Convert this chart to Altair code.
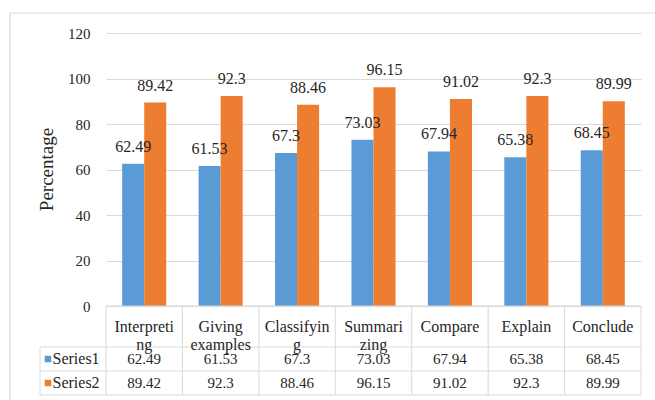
import altair as alt
import pandas as pd

# ---------------- data ----------------
categories = ["Interpreting", "Giving examples", "Classifying", "Summarizing",
              "Compare", "Explain", "Conclude"]
table_labels = ["Interpreti\nng", "Giving\nexamples", "Classifyin\ng", "Summari\nzing",
                "Compare", "Explain", "Conclude"]
series_names = ["Series1", "Series2"]
series1 = [62.49, 61.53, 67.3, 73.03, 67.94, 65.38, 68.45]
series2 = [89.42, 92.3, 88.46, 96.15, 91.02, 92.3, 89.99]
y_ticks = [0, 20, 40, 60, 80, 100, 120]
colors = ["#5B9BD5", "#ED7D31"]

# ---------------- layout constants ----------------
FONT = "Liberation Serif"
TXT = "#262626"
LINE = "#D9D9D9"
W, H = 535, 362
ZERO_PX = 273
UPP = 120 / ZERO_PX
YMIN = -(H - ZERO_PX) * UPP
COLW = W / len(categories)
ROW_PX = [0, 41, 65, 89]
row_y = [-p * UPP for p in ROW_PX]
LEG_LEFT = -66 / COLW

series_vals = [series1, series2]

bars_df = pd.DataFrame([
    {"category": c, "series": s, "value": v, "label": str(v)}
    for s, vals in zip(series_names, series_vals)
    for c, v in zip(categories, vals)
])

y_scale = alt.Scale(domain=[YMIN, 120], nice=False, zero=False)
x_band = alt.X("category:N", sort=categories, axis=None,
               scale=alt.Scale(paddingInner=0.423, paddingOuter=0.2115))
color_enc = alt.Color("series:N", sort=series_names,
                      scale=alt.Scale(domain=series_names, range=colors), legend=None)

y_axis = alt.Axis(values=y_ticks, grid=True, gridColor=LINE, domain=False,
                  ticks=False, labelPadding=16, labelFontSize=15,
                  labelFont=FONT, labelColor=TXT, title="Percentage",
                  titleFont=FONT, titleFontSize=19, titleFontWeight="normal",
                  titleColor=TXT, titleX=-54, titleY=136, titleAngle=270,
                  titleBaseline="alphabetic", titleAlign="center")


def Yq(field):
    return alt.Y(field, type="quantitative", scale=y_scale, axis=y_axis, title="Percentage")


bars = alt.Chart(bars_df).mark_bar().encode(
    x=x_band,
    xOffset=alt.XOffset("series:N", sort=series_names,
                        scale=alt.Scale(paddingInner=0, paddingOuter=0)),
    y=Yq("value"),
    y2=alt.datum(0),
    color=color_enc,
)

bar_labels = alt.Chart(bars_df).mark_text(
    font=FONT, fontSize=16, color=TXT, baseline="alphabetic", dy=-12
).encode(
    x=x_band,
    xOffset=alt.XOffset("series:N", sort=series_names,
                        scale=alt.Scale(paddingInner=0, paddingOuter=0)),
    y=Yq("value"),
    text="label:N",
)

# ---------------- data table ----------------
x_col = alt.Scale(domain=[0, len(categories)], nice=False, zero=False)
n = len(categories)

hlines_df = pd.DataFrame(
    [{"x": 0, "x2": n, "y": row_y[0]}] +
    [{"x": LEG_LEFT, "x2": n, "y": yy} for yy in row_y[1:]]
)
vlines_df = pd.DataFrame(
    [{"x": LEG_LEFT, "y": row_y[1], "y2": row_y[3]}] +
    [{"x": i, "y": row_y[0], "y2": row_y[3]} for i in range(n + 1)]
)

hlines = alt.Chart(hlines_df).mark_rule(color=LINE, strokeWidth=1).encode(
    x=alt.X("x:Q", scale=x_col, axis=None), x2="x2:Q",
    y=Yq("y"),
)
vlines = alt.Chart(vlines_df).mark_rule(color=LINE, strokeWidth=1).encode(
    x=alt.X("x:Q", scale=x_col, axis=None),
    y=Yq("y"), y2="y2:Q",
)

cat_df = pd.DataFrame({"x": [i + 0.5 for i in range(n)],
                       "y": [(row_y[0] + row_y[1]) / 2] * n,
                       "t": table_labels})
cat_text = alt.Chart(cat_df).mark_text(
    font=FONT, fontSize=16, color=TXT, baseline="middle", align="center",
    lineBreak="\n", lineHeight=18
).encode(
    x=alt.X("x:Q", scale=x_col, axis=None),
    y=Yq("y"),
    text="t:N",
)

val_rows = []
for r, (s, vals) in enumerate(zip(series_names, series_vals)):
    yc = (row_y[r + 1] + row_y[r + 2]) / 2
    for i, v in enumerate(vals):
        val_rows.append({"x": i + 0.5, "y": yc, "t": str(v)})
val_df = pd.DataFrame(val_rows)
val_text = alt.Chart(val_df).mark_text(
    font=FONT, fontSize=15, color=TXT, baseline="middle", align="center"
).encode(
    x=alt.X("x:Q", scale=x_col, axis=None),
    y=Yq("y"),
    text="t:N",
)

leg_df = pd.DataFrame({
    "series": series_names,
    "y": [(row_y[r + 1] + row_y[r + 2]) / 2 for r in range(len(series_names))],
    "xs": [-58 / COLW] * len(series_names),
    "xt": [-53.5 / COLW] * len(series_names),
})
leg_sq = alt.Chart(leg_df).mark_square(size=42, opacity=1).encode(
    x=alt.X("xs:Q", scale=x_col, axis=None),
    y=Yq("y"),
    color=color_enc,
)
leg_txt = alt.Chart(leg_df).mark_text(
    font=FONT, fontSize=16, color=TXT, baseline="middle", align="left"
).encode(
    x=alt.X("xt:Q", scale=x_col, axis=None),
    y=Yq("y"),
    text="series:N",
)

# outer chart frame (decoration)
frame = alt.Chart(pd.DataFrame({"k": [0]})).mark_rect(
    filled=False, stroke=LINE, strokeWidth=1.2
).encode(
    x=alt.value(-96), x2=alt.value(700), y=alt.value(-20), y2=alt.value(500)
)

chart = alt.layer(
    bars, bar_labels, hlines, vlines, cat_text, val_text, leg_sq, leg_txt, frame
).resolve_scale(x="independent").properties(
    width=W, height=H,
    padding={"left": 106, "top": 33, "right": 14, "bottom": 5},
    autosize=alt.AutoSizeParams(type="none"),
).configure_view(strokeWidth=0)

chart.save("out.html", embed_options={"renderer": "svg", "actions": False})
